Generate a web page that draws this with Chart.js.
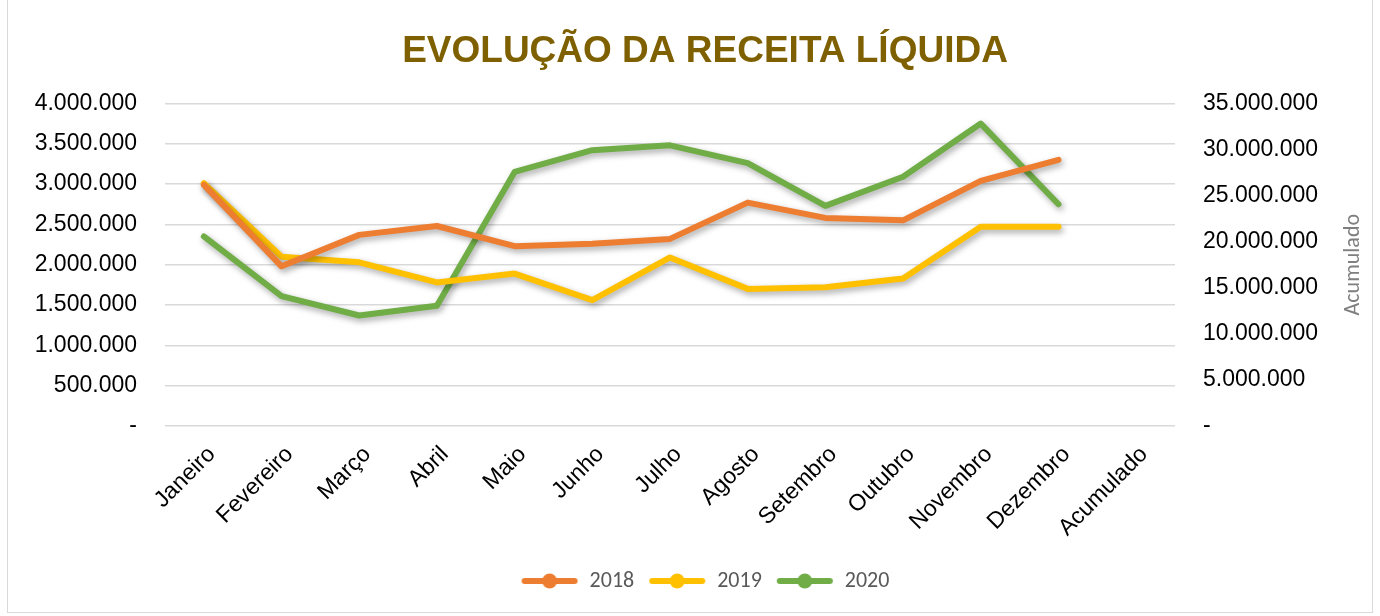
<!DOCTYPE html>
<html>
<head>
<meta charset="utf-8">
<script src="https://cdn.jsdelivr.net/npm/chart.js@4.4.1/dist/chart.umd.min.js"></script>
<style>
  html, body { margin: 0; padding: 0; background: #fff; }
  #wrap { position: relative; width: 1380px; height: 616px; }
  #frame { position: absolute; left: 7px; top: -1px; width: 1366px; height: 614px; border: 1px solid #d9d9d9; box-sizing: border-box; pointer-events: none; }
</style>
</head>
<body>
<div id="wrap">
  <canvas id="grafico" width="1380" height="616"></canvas>
  <div id="frame"></div>
</div>
<script>
// meses + acumulado
var meses = ['Janeiro', 'Fevereiro', 'Março', 'Abril', 'Maio', 'Junho', 'Julho', 'Agosto', 'Setembro', 'Outubro', 'Novembro', 'Dezembro', 'Acumulado'];

// receita liquida mensal
var receita2018 = [2990000, 1980000, 2370000, 2480000, 2230000, 2260000, 2320000, 2770000, 2580000, 2550000, 3040000, 3300000, null];
var receita2019 = [3010000, 2100000, 2030000, 1780000, 1890000, 1560000, 2090000, 1700000, 1720000, 1830000, 2470000, 2470000, null];
var receita2020 = [2350000, 1610000, 1370000, 1490000, 3150000, 3420000, 3480000, 3260000, 2730000, 3090000, 3750000, 2750000, null];

var anos = ['2018', '2019', '2020'];
var cores = ['#ED7D31', '#FFC000', '#70AD47'];

function formata(v){
    if (v === 0) return '-';
    return v.toString().replace(/\B(?=(\d{3})+(?!\d))/g, '.');
}

// icone da legenda: linha com bolinha
function iconeLegenda(cor){
    var c = document.createElement('canvas');
    c.width = 58; c.height = 18;
    var g = c.getContext('2d');
    g.strokeStyle = cor;
    g.lineWidth = 6;
    g.lineCap = 'round';
    g.beginPath(); g.moveTo(4, 9); g.lineTo(54, 9); g.stroke();
    g.fillStyle = cor;
    g.beginPath(); g.arc(29, 9, 7.5, 0, Math.PI * 2); g.fill();
    return c;
}

var sombra = {
    id: 'sombra',
    beforeDatasetDraw: function(chart){
        var ctx = chart.ctx;
        ctx.save();
        ctx.shadowColor = 'rgba(0,0,0,0.35)';
        ctx.shadowBlur = 6;
        ctx.shadowOffsetX = 2;
        ctx.shadowOffsetY = 3;
    },
    afterDatasetDraw: function(chart){
        chart.ctx.restore();
    }
};

// titulo do eixo secundario, lido de baixo para cima
var tituloDireita = {
    id: 'tituloDireita',
    afterDraw: function(chart){
        var ctx = chart.ctx;
        var area = chart.chartArea;
        ctx.save();
        ctx.translate(chart.scales.y2.right - 27, (area.top + area.bottom) / 2);
        ctx.rotate(-Math.PI / 2);
        ctx.fillStyle = '#7f7f7f';
        ctx.font = '22px Carlito, Lato, sans-serif';
        ctx.textAlign = 'center';
        ctx.textBaseline = 'middle';
        ctx.fillText('Acumulado', 0, 0);
        ctx.restore();
    }
};

var series = [receita2018, receita2019, receita2020];
var datasets = series.map(function(s, i){
    return {
        label: anos[i],
        data: s,
        borderColor: cores[i],
        backgroundColor: cores[i],
        borderWidth: 6,
        borderCapStyle: 'round',
        borderJoinStyle: 'round',
        pointRadius: 0,
        pointHoverRadius: 0,
        tension: 0,
        yAxisID: 'y',
        pointStyle: iconeLegenda(cores[i])
    };
});

new Chart(document.getElementById('grafico'), {
    type: 'line',
    data: { labels: meses, datasets: datasets },
    plugins: [sombra, tituloDireita],
    options: {
        responsive: false,
        animation: false,
        layout: { padding: { left: 30, right: 0, top: 0, bottom: 14 } },
        plugins: {
            title: {
                display: true,
                text: 'EVOLUÇÃO DA RECEITA LÍQUIDA',
                color: '#7F6000',
                font: { family: '"Liberation Sans", Arial, sans-serif', size: 37, weight: 'bold' },
                padding: { top: 30, bottom: 29 }
            },
            legend: {
                position: 'bottom',
                labels: {
                    usePointStyle: true,
                    pointStyleWidth: 58,
                    color: '#595959',
                    font: { family: 'Carlito, Lato, sans-serif', size: 22 },
                    padding: 14
                }
            },
            tooltip: { enabled: false }
        },
        scales: {
            x: {
                offset: true,
                grid: { display: false, offset: true },
                border: { display: false },
                ticks: {
                    color: '#000',
                    font: { family: '"Liberation Sans", Arial, sans-serif', size: 23 },
                    minRotation: 45,
                    maxRotation: 45,
                    labelOffset: 8,
                    padding: 7
                },
                afterFit: function(s){ s.height = 130; }
            },
            y: {
                position: 'left',
                min: 0,
                max: 4000000,
                grid: { color: '#d9d9d9', lineWidth: 1.5, drawTicks: false },
                border: { display: false },
                ticks: {
                    stepSize: 500000,
                    color: '#000',
                    padding: 28,
                    font: { family: '"Liberation Sans", Arial, sans-serif', size: 23 },
                    callback: function(v){ return formata(v); }
                },
                afterFit: function(s){ s.width = 135; }
            },
            y2: {
                position: 'right',
                min: 0,
                max: 35000000,
                grid: { display: false, drawTicks: false },
                border: { display: false },
                ticks: {
                    stepSize: 5000000,
                    color: '#000',
                    padding: 28,
                    font: { family: '"Liberation Sans", Arial, sans-serif', size: 23 },
                    callback: function(v){ return formata(v); }
                },
                afterFit: function(s){ s.width = 205; }
            }
        }
    }
});
</script>
</body>
</html>
